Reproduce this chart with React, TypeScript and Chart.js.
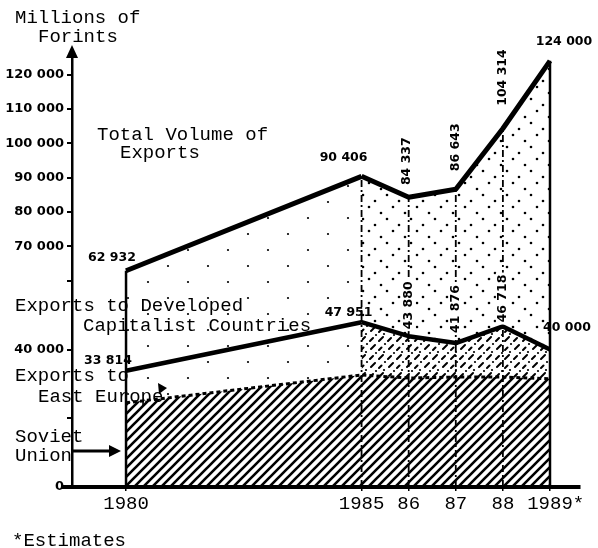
import React, { useEffect, useRef } from 'react';
import { Chart, registerables } from 'chart.js';

Chart.register(...registerables);

// ---- data ----
const years = [1980, 1985, 1986, 1987, 1988, 1989];
const yearLabels = ['1980', '1985', '86', '87', '88', ' 1989*'];
const totalExports = [62932, 90406, 84337, 86643, 104314, 124000];
const developedBoundary = [33814, 47951, 43880, 41876, 46718, 40000];
const eastEuropeBoundary = [24500, 32600, 31700, 32000, 32000, 31500];
const totalLabels = ['62 932', '90 406', '84 337', '86 643', '104 314', '124 000'];
const developedLabels = ['33 814', '47 951', '43 880', '41 876', '46 718', '40 000'];
const yTickValues = [0, 20000, 40000, 60000, 70000, 80000, 90000, 100000, 110000, 120000];
const yTickLabels = ['0', '', '40 000', '', '70 000', '80 000', '90 000', '100 000', '110 000', '120 000'];

// ---- label layout (pixel offsets from the data point, rotated flag) ----
const totalLabelPlacement: [number, number, number][] = [
  [-14, -13, 0], [-18, -19, 0], [-2, -36, 1], [0, -42, 1], [0, -51, 1], [14, -19, 0],
];
const developedLabelPlacement: [number, number, number][] = [
  [-18, -10, 0], [-13, -9, 0], [0, -31, 1], [0, -34, 1], [0, -28, 1], [17, -22, 0],
];

const TYPE_FONT = '19px "Liberation Mono", "Courier New", monospace';
const NUM_FONT = 'bold 12.5px "DejaVu Sans", sans-serif';

const annotations: [string, number, number][] = [
  ['Millions of', 15, 18],
  ['Forints', 38, 37],
  ['Total Volume of', 97, 135],
  ['Exports', 120, 153],
  ['Exports to Developed', 15, 306],
  ['Capitalist Countries', 83, 326],
  ['Exports to', 15, 376],
  ['East Europe', 38, 397],
  ['Soviet', 15, 437],
  ['Union', 15, 456],
  ['*Estimates', 12, 541],
];

function makePattern(w: number, h: number, draw: (g: CanvasRenderingContext2D) => void) {
  const c = document.createElement('canvas');
  c.width = w;
  c.height = h;
  const g = c.getContext('2d')!;
  draw(g);
  return g.createPattern(c, 'repeat')!;
}

function dots(g: CanvasRenderingContext2D, pts: [number, number][], r: number) {
  g.fillStyle = '#000';
  for (const [x, y] of pts) {
    g.beginPath();
    g.arc(x, y, r, 0, Math.PI * 2);
    g.fill();
  }
}

export default function App() {
  const ref = useRef<HTMLCanvasElement>(null);

  useEffect(() => {
    const canvas = ref.current!;

    const hatch = makePattern(9, 9, (g) => {
      g.strokeStyle = '#000';
      g.lineWidth = 2.6;
      g.lineCap = 'square';
      g.beginPath();
      g.moveTo(-1, 10); g.lineTo(10, -1);
      g.moveTo(-1, 1); g.lineTo(1, -1);
      g.moveTo(8, 10); g.lineTo(10, 8);
      g.stroke();
    });
    const denseDots = makePattern(24, 24, (g) => dots(g, [[3, 3], [15, 9], [9, 15], [21, 21]], 1.3));
    const sparseDots = makePattern(40, 32, (g) => dots(g, [[8, 10], [28, 26]], 1.1));
    const brokenHatch = makePattern(18, 18, (g) => {
      g.strokeStyle = '#000';
      g.lineWidth = 2;
      g.lineCap = 'round';
      g.beginPath();
      g.moveTo(1, 17); g.lineTo(5, 13);
      g.moveTo(10, 17); g.lineTo(13, 14);
      g.moveTo(1, 8); g.lineTo(3.5, 5.5);
      g.moveTo(11, 7); g.lineTo(15, 3);
      g.stroke();
      dots(g, [[7, 2], [16, 11], [6, 10]], 1.1);
    });

    const pts = (vals: number[]) => years.map((yr, i) => ({ x: yr, y: vals[i] }));

    const dropLines = years.map((yr, i) => ({
      label: 'drop' + yr,
      data: [{ x: yr, y: 0 }, { x: yr, y: totalExports[i] }],
      borderColor: '#000',
      borderWidth: i === 0 || i === years.length - 1 ? 2.5 : 1.8,
      borderDash: i === 0 || i === years.length - 1 ? [] : [7, 3, 2, 3],
      pointRadius: 0,
      fill: false,
    }));

    const annot = {
      id: 'annot',
      afterDatasetsDraw(chart: any) {
        const { ctx, scales, chartArea } = chart;
        const x = scales.x, y = scales.y;
        ctx.save();
        ctx.fillStyle = '#000';
        ctx.strokeStyle = '#000';

        // y-axis arrow head and x-axis stub
        ctx.beginPath();
        ctx.moveTo(chartArea.left, 45);
        ctx.lineTo(chartArea.left - 6, 58);
        ctx.lineTo(chartArea.left + 6, 58);
        ctx.closePath();
        ctx.fill();
        ctx.lineWidth = 4;
        ctx.beginPath();
        ctx.moveTo(62, chartArea.bottom);
        ctx.lineTo(chartArea.left, chartArea.bottom);
        ctx.stroke();

        // numeric labels
        ctx.font = NUM_FONT;
        ctx.textAlign = 'center';
        ctx.textBaseline = 'middle';
        const draw = (text: string, px: number, py: number, rot: number) => {
          ctx.save();
          ctx.translate(px, py);
          if (rot) ctx.rotate(-Math.PI / 2);
          const w = ctx.measureText(text).width;
          if (rot) {
            ctx.fillStyle = '#fff';
            ctx.fillRect(-w / 2 - 2, -7, w + 4, 14);
            ctx.fillStyle = '#000';
          }
          ctx.fillText(text, 0, 0);
          ctx.restore();
        };
        years.forEach((yr, i) => {
          const px = x.getPixelForValue(yr);
          const [dx, dy, r] = totalLabelPlacement[i];
          draw(totalLabels[i], px + dx, y.getPixelForValue(totalExports[i]) + dy, r);
          const [dx2, dy2, r2] = developedLabelPlacement[i];
          draw(developedLabels[i], px + dx2, y.getPixelForValue(developedBoundary[i]) + dy2, r2);
        });

        // typewriter annotations
        ctx.font = TYPE_FONT;
        ctx.textAlign = 'left';
        for (const [t, tx, ty] of annotations) ctx.fillText(t, tx, ty);

        // East Europe pointer
        ctx.beginPath();
        ctx.moveTo(158, 383);
        ctx.lineTo(167, 388);
        ctx.lineTo(159, 394);
        ctx.closePath();
        ctx.fill();

        // Soviet Union arrow
        ctx.lineWidth = 3;
        ctx.beginPath();
        ctx.moveTo(73, 451);
        ctx.lineTo(112, 451);
        ctx.stroke();
        ctx.beginPath();
        ctx.moveTo(109, 445);
        ctx.lineTo(121, 451);
        ctx.lineTo(109, 457);
        ctx.closePath();
        ctx.fill();
        ctx.restore();
      },
    };

    const chart = new Chart(canvas, {
      type: 'line',
      data: {
        datasets: [
          {
            label: 'Total Volume of Exports',
            data: pts(totalExports),
            borderColor: '#000',
            borderWidth: 5,
            borderJoinStyle: 'round',
            pointRadius: 0,
            fill: '+1',
            backgroundColor: denseDots,
            segment: {
              backgroundColor: (c: any) => (c.p0DataIndex === 0 ? sparseDots : denseDots),
            },
          } as any,
          {
            label: 'Exports to Developed Capitalist Countries',
            data: pts(developedBoundary),
            borderColor: '#000',
            borderWidth: 4.5,
            borderJoinStyle: 'round',
            tension: 0,
            pointRadius: 0,
            fill: '+1',
            backgroundColor: brokenHatch,
            segment: {
              backgroundColor: (c: any) => (c.p0DataIndex === 0 ? sparseDots : brokenHatch),
            },
          } as any,
          {
            label: 'Exports to East Europe',
            data: pts(eastEuropeBoundary),
            borderColor: '#000',
            borderWidth: 3,
            borderDash: [4, 3],
            tension: 0,
            pointRadius: 0,
            fill: 'origin',
            backgroundColor: hatch,
          } as any,
          ...(dropLines as any[]),
        ],
      },
      options: {
        responsive: false,
        animation: false,
        events: [],
        layout: { padding: { top: 54, right: 18, left: 0, bottom: 0 }, autoPadding: false } as any,
        plugins: {
          legend: { display: false },
          tooltip: { enabled: false },
          filler: { drawTime: 'beforeDatasetsDraw' } as any,
        },
        scales: {
          x: {
            type: 'linear',
            min: 1978.853,
            max: 1989.637,
            afterBuildTicks: (s: any) => {
              s.ticks = years.map((v) => ({ value: v }));
            },
            afterFit: (s: any) => {
              s.height = 61;
            },
            ticks: {
              callback: (_v: any, i: number) => yearLabels[i],
              font: { family: '"Liberation Mono", monospace', size: 19 },
              color: '#000',
              padding: 2,
              maxRotation: 0,
              autoSkip: false,
            },
            grid: { drawOnChartArea: false, drawTicks: true, tickLength: 4, color: '#000', lineWidth: 1.5 },
            border: { display: true, color: '#000', width: 4 },
          },
          y: {
            type: 'linear',
            min: 0,
            max: 126000,
            afterBuildTicks: (s: any) => {
              s.ticks = yTickValues.map((v) => ({ value: v }));
            },
            afterFit: (s: any) => {
              s.width = 72;
            },
            ticks: {
              callback: (_v: any, i: number) => yTickLabels[i],
              font: { family: '"DejaVu Sans", sans-serif', size: 13, weight: 'bold' },
              color: '#000',
              padding: 3,
              autoSkip: false,
            },
            grid: { drawOnChartArea: false, drawTicks: true, tickLength: 5, color: '#000', lineWidth: 2 },
            border: { display: true, color: '#000', width: 2.5 },
          },
        },
      } as any,
      plugins: [annot],
    });

    return () => chart.destroy();
  }, []);

  return (
    <div style={{ position: 'fixed', left: 0, top: 0, width: 598, height: 548, background: '#fff' }}>
      <canvas ref={ref} width={598} height={548} style={{ display: 'block', width: 598, height: 548 }} />
    </div>
  );
}
